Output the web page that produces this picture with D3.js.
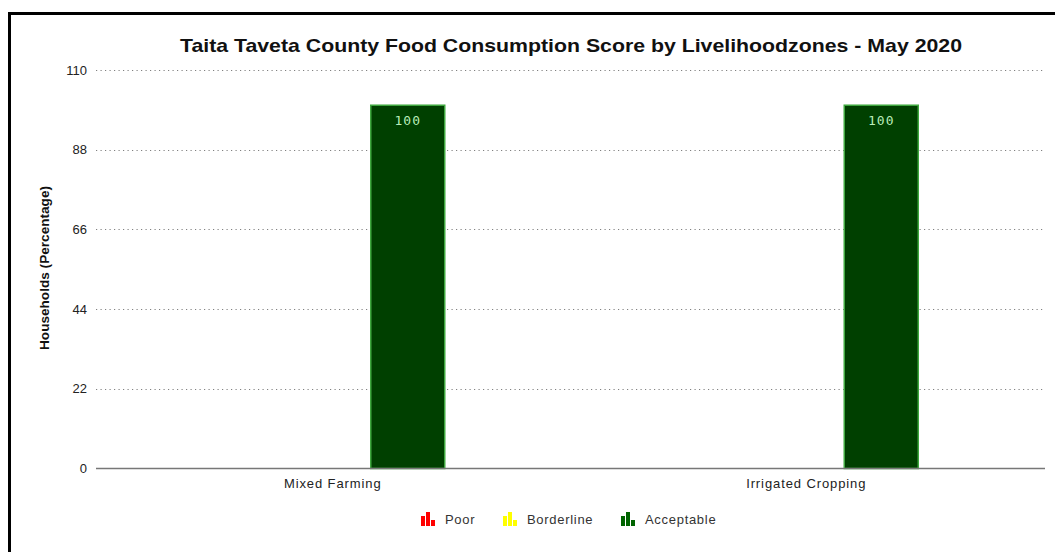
<!DOCTYPE html>
<html>
<head>
<meta charset="utf-8">
<script src="https://cdn.jsdelivr.net/npm/d3@7"></script>
<style>
  html, body { margin: 0; padding: 0; background: #fff; }
  svg { display: block; font-family: "Liberation Sans", Arial, sans-serif; }
</style>
</head>
<body>
<svg id="chart" width="1055" height="552"></svg>
<script>
// Food consumption score by livelihood zone
const categories = ["Mixed Farming", "Irrigated Cropping"];
const seriesNames = ["Poor", "Borderline", "Acceptable"];
const poor = [0, 0];
const borderline = [0, 0];
const acceptable = [100, 100];
const yTicks = [0, 22, 44, 66, 88, 110];
const colors = { Poor: "#ff0000", Borderline: "#ffff00", Acceptable: "#004000" };
const strokes = { Poor: "#ff6060", Borderline: "#ffff80", Acceptable: "#3fa83f" };
const legendColors = { Poor: "#ff0000", Borderline: "#ffff00", Acceptable: "#006400" };

const seriesValues = { Poor: poor, Borderline: borderline, Acceptable: acceptable };

const svg = d3.select("#chart");
const W = 1055, H = 552;
const m = { left: 96, right: 1043, top: 70, bottom: 468.5 };

// frame lines
svg.append("line").attr("x1", 8).attr("x2", W).attr("y1", 13.5).attr("y2", 13.5)
  .attr("stroke", "#000").attr("stroke-width", 3);
svg.append("line").attr("x1", 9.5).attr("x2", 9.5).attr("y1", 12).attr("y2", H)
  .attr("stroke", "#000").attr("stroke-width", 3);

const x0 = d3.scaleBand().domain(categories).range([m.left, m.right]).padding(0);
const y = d3.scaleLinear().domain([0, 110]).range([m.bottom, m.top]);
const barW = 75;
const x1 = d3.scaleBand().domain(seriesNames).range([-barW * 1.5, barW * 1.5]).padding(0);

// gridlines
svg.append("g").selectAll("line").data(yTicks.filter(t => t > 0)).join("line")
  .attr("x1", m.left).attr("x2", m.right)
  .attr("y1", d => Math.round(y(d)) + 0.5).attr("y2", d => Math.round(y(d)) + 0.5)
  .attr("stroke", "#808080").attr("stroke-width", 1).attr("stroke-dasharray", "1.2,3.3");

// y tick labels
const yAxis = d3.axisLeft(y).tickValues(yTicks).tickSize(0).tickPadding(9);
const gy = svg.append("g").attr("transform", `translate(${m.left},0)`).call(yAxis);
gy.select(".domain").remove();
gy.selectAll("text").attr("font-size", 13).attr("fill", "#222")
  .attr("font-family", "Liberation Sans, Arial, sans-serif");

// bars
const groups = svg.append("g").selectAll("g").data(categories).join("g")
  .attr("transform", d => `translate(${x0(d) + x0.bandwidth() / 2},0)`);
groups.each(function (cat, ci) {
  const g = d3.select(this);
  seriesNames.forEach(s => {
    const v = seriesValues[s][ci];
    if (v <= 0) return;
    g.append("rect")
      .attr("x", x1(s) + 0.5).attr("width", x1.bandwidth() - 1)
      .attr("y", y(v) - 1).attr("height", y(0) - y(v) + 1)
      .attr("fill", colors[s]).attr("stroke", strokes[s]).attr("stroke-width", 1.5);
    g.append("text")
      .attr("x", x1(s) + x1.bandwidth() / 2).attr("y", y(v) + 19)
      .attr("text-anchor", "middle").attr("font-size", 13)
      .attr("letter-spacing", 1)
      .attr("font-family", "DejaVu Sans Mono, monospace")
      .attr("fill", "#b8ecb8").text(v);
  });
});

// x axis baseline and labels
svg.append("line").attr("x1", m.left).attr("x2", m.right + 2)
  .attr("y1", m.bottom).attr("y2", m.bottom).attr("stroke", "#777").attr("stroke-width", 1.5);
const xAxis = d3.axisBottom(x0).tickSize(0).tickPadding(0);
const gx = svg.append("g").attr("transform", `translate(0,${m.bottom})`).call(xAxis);
gx.select(".domain").remove();
gx.selectAll("text").attr("font-size", 13).attr("fill", "#222")
  .attr("y", 19).attr("dy", null)
  .attr("letter-spacing", 0.9)
  .attr("font-family", "Liberation Sans, Arial, sans-serif");

// title
svg.append("text").attr("x", 180).attr("y", 52)
  .attr("font-size", 19).attr("font-weight", "bold")
  .attr("textLength", 782).attr("lengthAdjust", "spacingAndGlyphs")
  .attr("fill", "#111").text("Taita Taveta County Food Consumption Score by Livelihoodzones - May 2020");

// y axis title
svg.append("text").attr("transform", "translate(49,268) rotate(-90)")
  .attr("text-anchor", "middle").attr("font-size", 12).attr("font-weight", "bold")
  .attr("textLength", 164).attr("lengthAdjust", "spacingAndGlyphs")
  .attr("fill", "#111").text("Households (Percentage)");

// legend
const legendX = [421, 503, 621];
const legend = svg.append("g").selectAll("g").data(seriesNames).join("g")
  .attr("transform", (d, i) => `translate(${legendX[i]},512)`);
legend.each(function (s) {
  const g = d3.select(this);
  [[0, 4, 4, 10], [5, 0, 4, 14], [10, 8, 4, 6]].forEach(([rx, ry, rw, rh]) => {
    g.append("rect").attr("x", rx).attr("y", ry).attr("width", rw).attr("height", rh)
      .attr("fill", legendColors[s]);
  });
  g.append("text").attr("x", 24).attr("y", 12).attr("font-size", 13)
    .attr("letter-spacing", 0.7)
    .attr("fill", "#333").text(s);
});
</script>
</body>
</html>
